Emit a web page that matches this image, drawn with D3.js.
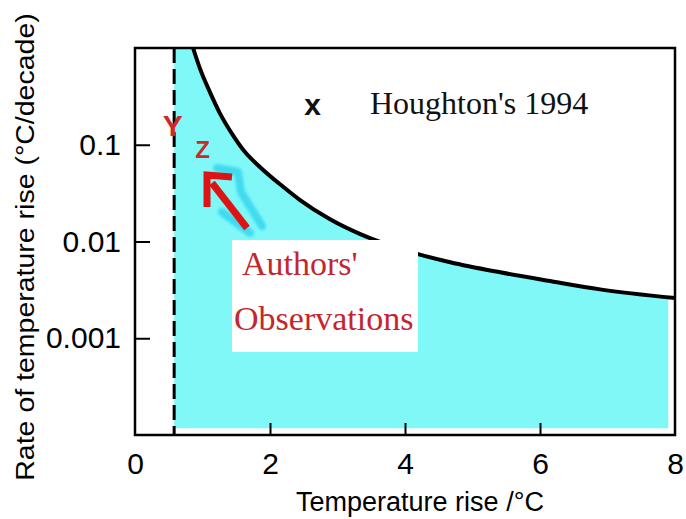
<!DOCTYPE html>
<html>
<head>
<meta charset="utf-8">
<script src="https://cdn.jsdelivr.net/npm/d3@7"></script>
<style>
  html, body { margin: 0; padding: 0; background: #ffffff; }
  svg { display: block; }
</style>
</head>
<body>
<svg id="chart" width="686" height="519"></svg>
<script>
// ---- data -------------------------------------------------------------
const xTicks = [0, 2, 4, 6, 8];
const yTicks = [0.1, 0.01, 0.001];
const yTickLabels = ["0.1", "0.01", "0.001"];

// Boundary curve: temperature rise (°C) vs. rate of rise (°C/decade)
const boundaryTemp = [0.86, 0.96, 1.11, 1.26, 1.45, 1.63, 1.85, 2.19, 2.44, 2.89, 3.33, 3.93, 4.67, 5.41, 6.15, 6.89, 8.0];
const boundaryRate = [1.0, 0.62, 0.35, 0.21, 0.126, 0.084, 0.059, 0.037, 0.027, 0.017, 0.012, 0.0084, 0.0061, 0.0048, 0.0039, 0.0032, 0.0026];

// Threshold temperature (dashed line) and the extent of the shaded region
const thresholdTemp = 0.58;
const regionRightTemp = 7.9;
const regionFloorRate = 1.17e-4;

// Annotation anchors (temperature, rate)
const houghtonPoint = [2.63, 0.26];
const labelY = [0.56, 0.16];
const labelZ = [1.0, 0.09];

// ---- scales -----------------------------------------------------------
const svg = d3.select("#chart");
const x = d3.scaleLinear().domain([0, 8]).range([135, 675]);
const y = d3.scaleLog().domain([1e-4, 1]).range([435, 48]);

const curveData = boundaryTemp.map((t, i) => ({ t, r: boundaryRate[i] }));

// ---- shaded region ----------------------------------------------------
const cyan = "#80f8f8";
const defs = svg.append("defs");
defs.append("clipPath").attr("id", "regionClip")
  .append("rect")
  .attr("x", x(0)).attr("y", y(1))
  .attr("width", x(regionRightTemp) - x(0))
  .attr("height", y(regionFloorRate) - y(1));

const region = svg.append("g").attr("clip-path", "url(#regionClip)");
region.append("rect")
  .attr("x", x(thresholdTemp)).attr("y", y(1))
  .attr("width", x(boundaryTemp[0]) - x(thresholdTemp) + 1)
  .attr("height", y(regionFloorRate) - y(1))
  .attr("fill", cyan);
region.append("path")
  .datum(curveData)
  .attr("fill", cyan)
  .attr("d", d3.area()
    .x(d => x(d.t))
    .y0(y(regionFloorRate))
    .y1(d => y(d.r))
    .curve(d3.curveMonotoneX));

// ---- boundary curve ---------------------------------------------------
svg.append("path")
  .datum(curveData)
  .attr("fill", "none")
  .attr("stroke", "#000")
  .attr("stroke-width", 4)
  .attr("d", d3.line()
    .x(d => x(d.t))
    .y(d => y(d.r))
    .curve(d3.curveMonotoneX));

// ---- threshold (dashed) -----------------------------------------------
svg.append("line")
  .attr("x1", x(thresholdTemp)).attr("x2", x(thresholdTemp))
  .attr("y1", y(1)).attr("y2", y(1e-4))
  .attr("stroke", "#000")
  .attr("stroke-width", 3)
  .attr("stroke-dasharray", "15,6");

// ---- frame & axes -----------------------------------------------------
svg.append("rect")
  .attr("x", x(0)).attr("y", y(1))
  .attr("width", x(8) - x(0)).attr("height", y(1e-4) - y(1))
  .attr("fill", "none").attr("stroke", "#000").attr("stroke-width", 2.5);

const xAxis = d3.axisBottom(x).tickValues(xTicks).tickSize(-12).tickPadding(18)
  .tickFormat(d3.format("d"));
const gx = svg.append("g").attr("transform", `translate(0,${y(1e-4)})`).call(xAxis);
gx.select(".domain").remove();
gx.selectAll(".tick line").attr("stroke", "#000").attr("stroke-width", 2)
  .filter(d => d === 0 || d === 8).remove();
gx.selectAll(".tick text")
  .attr("font-family", "Liberation Sans, Arial, sans-serif")
  .attr("font-size", 30).attr("fill", "#000");

const yAxis = d3.axisLeft(y).tickValues(yTicks).tickSize(-15).tickPadding(14)
  .tickFormat((d, i) => yTickLabels[i]);
const gy = svg.append("g").attr("transform", `translate(${x(0)},0)`).call(yAxis);
gy.select(".domain").remove();
gy.selectAll(".tick line").attr("stroke", "#000").attr("stroke-width", 2);
gy.selectAll(".tick text")
  .attr("font-family", "Liberation Sans, Arial, sans-serif")
  .attr("font-size", 30).attr("fill", "#000");

// axis titles
svg.append("text")
  .attr("x", 420).attr("y", 511)
  .attr("text-anchor", "middle")
  .attr("font-family", "Liberation Sans, Arial, sans-serif")
  .attr("font-size", 27).attr("fill", "#000")
  .text("Temperature rise /°C");

svg.append("text")
  .attr("transform", "translate(34,247) rotate(-90) scale(1.14,1)")
  .attr("text-anchor", "middle")
  .attr("font-family", "Liberation Sans, Arial, sans-serif")
  .attr("font-size", 25).attr("fill", "#000")
  .text("Rate of temperature rise (°C/decade)");

// ---- annotations ------------------------------------------------------
// Houghton's 1994 marker
svg.append("text")
  .attr("x", x(houghtonPoint[0])).attr("y", y(houghtonPoint[1]))
  .attr("text-anchor", "middle").attr("dominant-baseline", "central")
  .attr("font-family", "Liberation Sans, Arial, sans-serif")
  .attr("font-size", 30).attr("font-weight", "bold").attr("fill", "#111")
  .text("x");
svg.append("text")
  .attr("x", 370).attr("y", 114)
  .attr("font-family", "Liberation Serif, Times New Roman, serif")
  .attr("font-size", 32).attr("fill", "#111")
  .text("Houghton's 1994");

// Y / Z labels
svg.append("text")
  .attr("x", x(labelY[0])).attr("y", y(labelY[1]))
  .attr("text-anchor", "middle").attr("dominant-baseline", "central")
  .attr("font-family", "Liberation Sans, Arial, sans-serif")
  .attr("font-size", 30).attr("font-weight", "bold").attr("fill", "#cc2a26")
  .text("Y");
svg.append("text")
  .attr("x", x(labelZ[0])).attr("y", y(labelZ[1]))
  .attr("text-anchor", "middle").attr("dominant-baseline", "central")
  .attr("font-family", "Liberation Sans, Arial, sans-serif")
  .attr("font-size", 24).attr("font-weight", "bold").attr("fill", "#cc2a26")
  .text("Z");

// highlight behind the arrow
const glow = defs.append("filter").attr("id", "soft");
glow.append("feGaussianBlur").attr("stdDeviation", 1.6);
svg.append("path")
  .attr("d", "M217,168 L238,172 L241,192 L262,226 M222,212 L250,233")
  .attr("fill", "none").attr("stroke", "#35d5ee").attr("stroke-width", 8)
  .attr("stroke-linecap", "round").attr("stroke-linejoin", "round")
  .attr("filter", "url(#soft)").attr("opacity", 0.85);

// arrow pointing toward Z
svg.append("path")
  .attr("d", "M247,228 L212,183")
  .attr("fill", "none").attr("stroke", "#dd1414").attr("stroke-width", 7);
svg.append("path")
  .attr("d", "M232,177 L207,175 L207,207")
  .attr("fill", "none").attr("stroke", "#dd1414").attr("stroke-width", 7)
  .attr("stroke-linejoin", "miter");

// Authors' Observations box
svg.append("rect")
  .attr("x", 232).attr("y", 240).attr("width", 186).attr("height", 112)
  .attr("fill", "#ffffff");
svg.append("text")
  .attr("x", 242).attr("y", 275)
  .attr("font-family", "Liberation Serif, Times New Roman, serif")
  .attr("font-size", 34).attr("fill", "#c4262c")
  .text("Authors'");
svg.append("text")
  .attr("x", 234).attr("y", 330)
  .attr("font-family", "Liberation Serif, Times New Roman, serif")
  .attr("font-size", 34).attr("fill", "#c4262c")
  .text("Observations");
</script>
</body>
</html>
